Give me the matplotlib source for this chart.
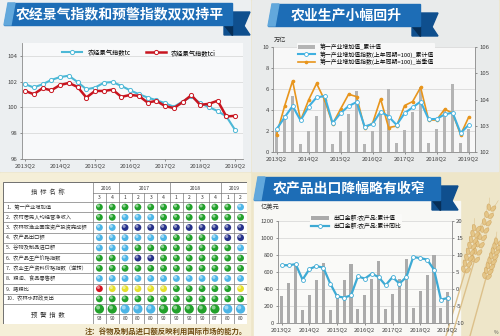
import numpy as np
import matplotlib.pyplot as plt
from matplotlib.patches import Rectangle, Polygon, Ellipse

plt.rcParams['font.family'] = ['Noto Sans CJK SC', 'DejaVu Sans']
plt.rcParams['axes.unicode_minus'] = False

# ---------------- data ----------------
year_ticks = ['2013Q2', '2014Q2', '2015Q2', '2016Q2', '2017Q2', '2018Q2', '2019Q2']

# 农经景气指数 (2013Q2 - 2019Q2)
tc = [101.8, 101.55, 101.8, 102.13, 102.36, 102.46, 101.97, 101.41, 101.54, 101.92,
      101.97, 101.67, 101.33, 101.03, 100.77, 100.56, 100.33, 100.05, 100.46, 100.85,
      100.33, 100.03, 99.72, 99.3, 98.25]
tci = [101.28, 101.03, 101.49, 101.33, 101.74, 101.9, 101.59, 100.77, 101.28, 101.28,
       101.38, 100.82, 100.97, 100.9, 100.38, 100.51, 100.1, 99.95, 100.41, 100.95,
       100.2, 100.28, 100.52, 99.3, 99.35]

# 第一产业增加值
gdp1_cum = [2.0, 3.5, 5.36, 0.79, 1.96, 3.47, 5.45, 0.79, 2.0, 3.6, 5.84, 0.8, 2.0,
            3.7, 6.0, 0.85, 2.1, 3.85, 6.2, 0.85, 2.2, 3.9, 6.47, 0.88, 2.2]
gdp1_idx_cum = [102.87, 103.32, 103.75, 103.2, 103.73, 104.08, 104.13, 103.1, 103.48,
                103.75, 103.9, 102.97, 103.07, 103.54, 103.35, 103.03, 103.48, 103.7,
                103.92, 103.25, 103.26, 103.43, 103.5, 102.72, 103.03]
gdp1_idx_q = [102.66, 103.75, 104.71, 103.2, 103.98, 104.61, 103.98, 103.07, 103.64,
              104.2, 104.11, 102.91, 103.1, 104.02, 102.93, 102.99, 103.77, 103.92,
              104.46, 103.22, 103.22, 103.63, 103.48, 102.66, 103.32]

# 农产品出口
export_cum = [315, 476, 680, 157, 334, 511, 708, 157, 338, 503, 700, 165, 334, 519, 728,
              169, 346, 523, 751, 177, 374, 570, 795, 177, 366]
export_yoy = [7.0, 7.0, 7.3, 2.75, 5.9, 6.7, 6.3, 1.6, -2.2, -2.5, -1.9, 3.7, 3.05, 4.5,
              3.5, 1.1, 3.5, 1.6, 3.5, 9.4, 9.1, 8.65, 5.7, -3.1, -2.65]

# 预警信号表
indicator_names = ['1．第一产业增加值', '2．农村居民人均经营净收入',
                   '3．农林牧渔业固定资产投资完成额', '4．农产品出口额',
                   '5．谷物及制品进口额', '6．农产品生产价格指数',
                   '7．农业生产资料价格指数（逆转）', '8．粮油、食品零售额',
                   '9．猪粮比', '10．农林水财政支出']
table_years = ['2016', '2017', '2018', '2019']
year_span = [2, 4, 4, 2]
table_quarters = ['3', '4', '1', '2', '3', '4', '1', '2', '3', '4', '1', '2']
signal_rows = ['GGGGGGGGGGGL',
               'GGLLLGGGGGGG',
               'LLDDDDDDDDDD',
               'LLLLLLGGGLDD',
               'LLLGGGGGGGGL',
               'GGLDDGGGGGGG',
               'GGGGGGGGGGGG',
               'LLLLLLLLLLLL',
               'RYYYYYGGGGGY',
               'GGGGGGGGGGGG']
overall_signal = 'GGLLLGGGGGLL'
warning_index = [93, 90, 80, 80, 80, 90, 90, 90, 90, 87, 80, 80]

signal_colors = {'G': '#22a12b', 'L': '#4cb5e6', 'D': '#26318a',
                 'Y': '#e4e02a', 'R': '#d5121f'}

W, H = 500, 336
TICK_FS = 4.3


def px_rect(x0, y0, x1, y1):
    return [x0 / W, 1 - y1 / H, (x1 - x0) / W, (y1 - y0) / H]


def style_axes(ax, n):
    ax.set_xticks(np.arange(0, n, 4))
    ax.set_xticklabels(year_ticks)
    for s in ['top', 'right']:
        ax.spines[s].set_visible(False)
    for s in ['left', 'bottom']:
        ax.spines[s].set_color('#8a8a8a')
        ax.spines[s].set_linewidth(0.6)
    ax.tick_params(labelsize=TICK_FS, length=1.5, width=0.4, colors='#444444', pad=1.5)
    ax.yaxis.grid(True, color='#d4d4d4', lw=0.5)
    ax.set_axisbelow(True)


def style_right(ax):
    for s in ['top', 'left', 'bottom']:
        ax.spines[s].set_visible(False)
    ax.spines['right'].set_color('#8a8a8a')
    ax.spines['right'].set_linewidth(0.6)
    ax.tick_params(labelsize=TICK_FS, length=1.5, width=0.4, colors='#444444', pad=1.5)


fig = plt.figure(figsize=(5, 3.36), dpi=100)
fig.patch.set_facecolor('#eee6c9')

# background layer: panels, title ribbons, wheat
bg = fig.add_axes([0, 0, 1, 1], zorder=0)
bg.set_xlim(0, W)
bg.set_ylim(H, 0)
bg.axis('off')

bg.add_patch(Rectangle((0, 0), 250, 171, color='#eceff1'))
bg.add_patch(Rectangle((252, 0), 246, 171, color='#e9ebeb'))
bg.add_patch(Rectangle((0, 173), 250, 163, color='#f5efd8'))
bg.add_patch(Rectangle((254, 201), 206, 135, color='#f8f8f5'))


def banner(x0, x1, y0, y1, title):
    bg.add_patch(Polygon([(x1 - 8, y0 + 9), (x1 + 18, y0 + 9), (x1 + 12, y1 + 1),
                          (x1 + 18, y1 + 10), (x1 - 8, y1 + 10)],
                         closed=True, color='#0f4f8e', zorder=2))
    bg.add_patch(Polygon([(x1 - 8, y1), (x1, y1), (x1, y1 + 10)],
                         closed=True, color='#062e57', zorder=3))
    bg.add_patch(Polygon([(x0, y0), (x1, y0), (x1, y1), (x0 - 4, y1)],
                         closed=True, color='#1d6db6', zorder=3))
    bg.add_patch(Polygon([(x0, y0), (x0 + 7, y0), (x0 + 3, y1), (x0 - 4, y1)],
                         closed=True, color='#62a8dc', zorder=4))
    bg.text((x0 + x1) / 2, (y0 + y1) / 2 + 0.5, title, color='white', fontsize=10,
            fontweight='heavy', ha='center', va='center', zorder=5)


banner(8, 232, 3, 25, '农经景气指数和预警指数双双持平')
banner(272, 420, 4, 26, '农业生产小幅回升')
banner(258, 440, 177, 200, '农产品出口降幅略有收窄')


def wheat_ear(xb, yb, xt, yt, n=8):
    dx, dy = xt - xb, yt - yb
    length = np.hypot(dx, dy)
    ux, uy = dx / length, dy / length
    ang = np.degrees(np.arctan2(dy, dx))
    for t in np.linspace(0.05, 0.95, n):
        cx, cy = xb + dx * t, yb + dy * t
        for side in (-1, 1):
            ox, oy = -uy * 2.3 * side, ux * 2.3 * side
            bg.add_patch(Ellipse((cx + ox, cy + oy), 6.5, 3.6, angle=ang + 25 * side,
                                 facecolor='#e4c27f', edgecolor='#cfa35c', lw=0.4,
                                 alpha=0.85, zorder=2))
            bg.plot([cx + ox, cx + ox + ux * 9 + ox], [cy + oy, cy + oy + uy * 9 + oy],
                    color='#d8b77a', lw=0.3, zorder=1)


for (xb, yb, xt, yt, xs) in [(474, 262, 492, 205, 452), (465, 272, 477, 226, 446),
                            (486, 278, 499, 240, 470)]:
    bg.plot([xs, xb], [336, yb], color='#dcc08a', lw=1.0, zorder=1)
    wheat_ear(xb, yb, xt, yt)

# ---------------- 农经景气指数 ----------------
x = np.arange(len(tc))
ax1 = fig.add_axes(px_rect(22, 43, 243, 159), zorder=2)
ax1.set_facecolor('#f8f9fa')
ax1.plot(x, tc, color='#4cb8d6', lw=1.5, marker='o', ms=3, mfc='white',
         mec='#4cb8d6', mew=0.7, label='农经景气指数tc')
ax1.plot(x, tci, color='#c8151f', lw=1.8, marker='o', ms=3, mfc='white',
         mec='#c8151f', mew=0.7, label='农经景气指数tci')
ax1.set_xlim(-0.35, 24.9)
ax1.set_ylim(96, 105)
ax1.set_yticks([96, 98, 100, 102, 104])
style_axes(ax1, len(tc))
ax1.legend(loc='upper center', bbox_to_anchor=(0.53, 1.0), ncol=2, frameon=False,
           fontsize=4.5, handlelength=3.2, columnspacing=2.5)

# ---------------- 第一产业增加值 ----------------
ax2 = fig.add_axes(px_rect(273, 47, 475, 152), zorder=2)
ax2.set_facecolor('#f8f8f8')
bars2 = ax2.bar(x, gdp1_cum, width=0.42, color='#b4b4b4', label='第一产业增加值_累计值')
ax2.set_xlim(-0.45, 24.8)
ax2.set_ylim(0, 10)
ax2.set_yticks([0, 2, 4, 6, 8, 10])
style_axes(ax2, len(gdp1_cum))
ax2r = ax2.twinx()
l_cum, = ax2r.plot(x, gdp1_idx_cum, color='#3fb0e0', lw=1.5, marker='o', ms=2.8,
                   mfc='white', mec='#3fb0e0', mew=0.6, zorder=3,
                   label='第一产业增加值指数(上年同期=100)_累计值')
l_q, = ax2r.plot(x, gdp1_idx_q, color='#e8951c', lw=1.2, marker='o', ms=1.6,
                 mfc='#e8951c', mec='#e8951c', zorder=2,
                 label='第一产业增加值指数(上年同期=100)_当季值')
ax2r.set_ylim(102, 106)
ax2r.set_yticks([102, 103, 104, 105, 106])
style_right(ax2r)
leg2 = ax2r.legend([bars2, l_cum, l_q],
                   [bars2.get_label(), l_cum.get_label(), l_q.get_label()],
                   loc='upper center', bbox_to_anchor=(0.46, 1.07), fontsize=4.2,
                   handlelength=3, labelspacing=0.2, borderpad=0.2,
                   frameon=True, framealpha=1, facecolor='#f8f8f8', edgecolor='none')
bg.text(280, 40, '万亿', fontsize=4.5, ha='center', va='center', color='#333333')

# ---------------- 农产品出口 ----------------
ax3 = fig.add_axes(px_rect(278, 221, 452, 323), zorder=2)
ax3.set_facecolor('#fafaf8')
bars3 = ax3.bar(x, export_cum, width=0.45, color='#ababab', label='出口金额:农产品:累计值')
ax3.set_xlim(-0.55, 24.6)
ax3.set_ylim(0, 1200)
ax3.set_yticks(np.arange(0, 1201, 200))
style_axes(ax3, len(export_cum))
ax3r = ax3.twinx()
l_yoy, = ax3r.plot(x, export_yoy, color='#3daad4', lw=1.6, marker='o', ms=2.8,
                   mfc='white', mec='#3daad4', mew=0.6, label='出口金额:农产品:累计同比')
ax3r.set_ylim(-10, 20)
ax3r.set_yticks(np.arange(-10, 21, 5))
style_right(ax3r)
ax3r.legend([bars3, l_yoy], [bars3.get_label(), l_yoy.get_label()],
            loc='upper center', bbox_to_anchor=(0.45, 1.1), fontsize=4.2,
            handlelength=3, labelspacing=0.35, borderpad=0.2,
            frameon=True, framealpha=1, facecolor='#fafaf8', edgecolor='none')
bg.text(270, 207, '亿美元', fontsize=4.5, ha='center', va='center', color='#333333')
bg.text(496, 333, '%', fontsize=3.5, ha='center', va='center', color='#555555')

# ---------------- 预警信号表 ----------------
tab = fig.add_axes(px_rect(3, 182, 247, 324), zorder=2)
tab.set_xlim(0, 244)
tab.set_ylim(142, 0)
tab.axis('off')
label_w = 90
col_w = (244 - label_w) / 12
yr_h, q_h, row_h = 11, 9, 10.2
data_top = yr_h + q_h
data_bot = data_top + row_h * len(signal_rows)
big_bot = data_bot + 10
line_kw = dict(color='#7a7a7a', lw=0.5)

tab.add_patch(Rectangle((0, 0), 244, 142, facecolor='white', edgecolor='#6f6f6f', lw=0.7))
tab.plot([label_w, label_w], [0, 142], **line_kw)
bounds = np.cumsum([0] + year_span)
for j in range(1, 12):
    top = 0 if j in bounds else yr_h
    tab.plot([label_w + j * col_w] * 2, [top, 142], **line_kw)
tab.plot([label_w, 244], [yr_h, yr_h], **line_kw)
for k in range(len(signal_rows) + 1):
    yy = data_top + k * row_h
    tab.plot([0, 244], [yy, yy], **line_kw)
tab.plot([label_w, 244], [big_bot, big_bot], **line_kw)

for yr, b0, span in zip(table_years, bounds[:-1], year_span):
    tab.text(label_w + (b0 + span / 2) * col_w, yr_h / 2 + 0.5, yr, fontsize=3.6,
             ha='center', va='center', color='#333333')
for j, q in enumerate(table_quarters):
    tab.text(label_w + (j + 0.5) * col_w, yr_h + q_h / 2, q, fontsize=3.6,
             ha='center', va='center', color='#333333')

tab.text(label_w / 2, data_top / 2, '指  标  名  称', fontsize=4.6, ha='center',
         va='center', color='#333333')
tab.text(label_w / 2, big_bot + 1, '预  警  指  数', fontsize=4.6, ha='center',
         va='center', color='#333333')
for i, name in enumerate(indicator_names):
    tab.text(3, data_top + (i + 0.5) * row_h, name, fontsize=3.8, ha='left',
             va='center', color='#333333')

xs, ys, cs = [], [], []
for i, row in enumerate(signal_rows):
    for j, c in enumerate(row):
        xs.append(label_w + (j + 0.5) * col_w)
        ys.append(data_top + (i + 0.5) * row_h)
        cs.append(signal_colors[c])
xs, ys = np.array(xs), np.array(ys)
tab.scatter(xs, ys, s=24, c=cs, edgecolors='none', zorder=3)
tab.scatter(xs - 1.0, ys - 1.2, s=5, c='white', alpha=0.5, edgecolors='none', zorder=4)

bx = label_w + (np.arange(len(overall_signal)) + 0.5) * col_w
by = np.full(len(overall_signal), data_bot + 5)
tab.scatter(bx, by, s=44, c=[signal_colors[c] for c in overall_signal],
            edgecolors='none', zorder=3)
tab.scatter(bx - 1.3, by - 1.5, s=8, c='white', alpha=0.5, edgecolors='none', zorder=4)
for j, v in enumerate(warning_index):
    tab.text(label_w + (j + 0.5) * col_w, big_bot + 5, str(v), fontsize=3.6,
             ha='center', va='center', color='#333333')

bg.text(247, 331, '注：谷物及制品进口额反映利用国际市场的能力。', ha='right', va='center',
        fontsize=5.3, color='#6e4b12', fontweight='bold')

fig.savefig('out.png', dpi=100, facecolor=fig.get_facecolor())
